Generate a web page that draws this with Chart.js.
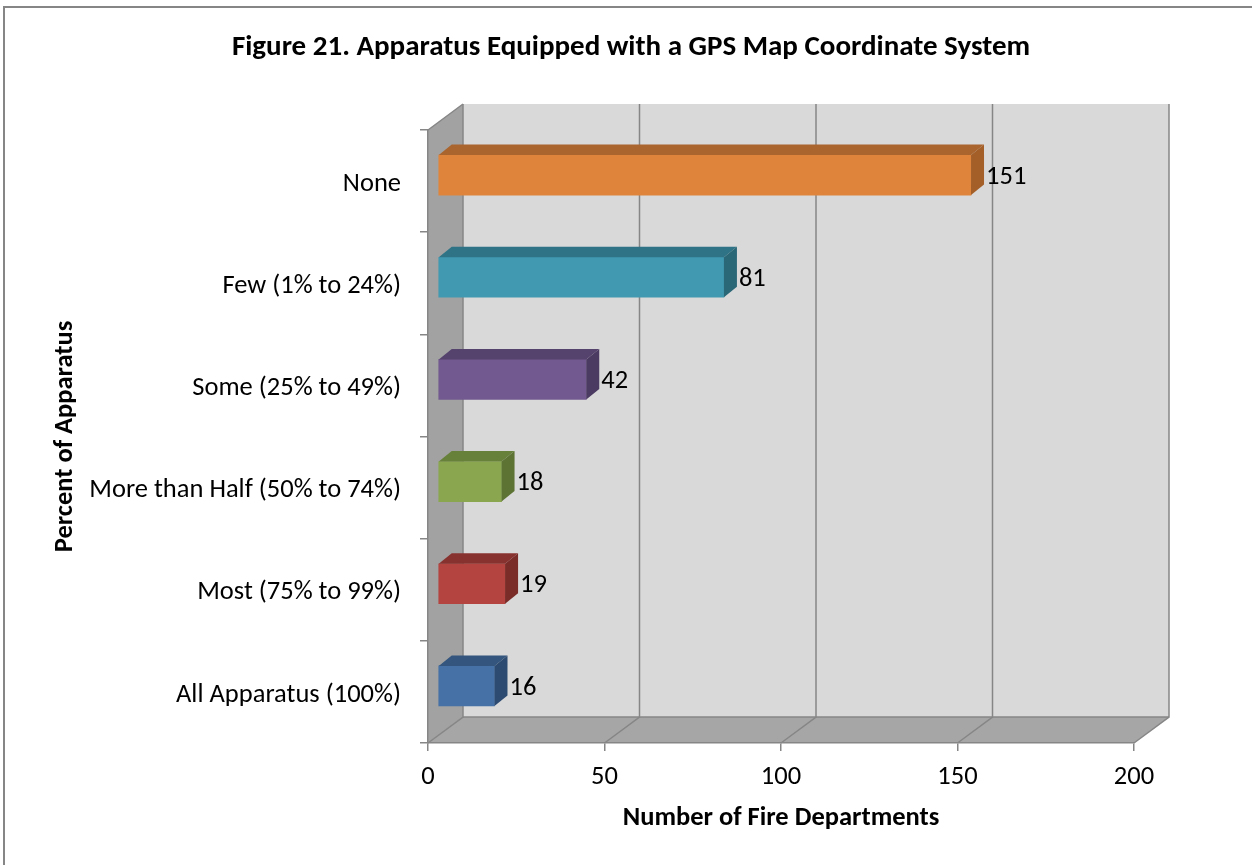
<!DOCTYPE html>
<html>
<head>
<meta charset="utf-8">
<script src="https://cdn.jsdelivr.net/npm/chart.js@4.4.0/dist/chart.umd.min.js"></script>
<style>
  html, body { margin: 0; padding: 0; background: #fff; }
</style>
</head>
<body>
<canvas id="grafico" width="1252" height="865"></canvas>
<script>
// dados do grafico
var categorias = ['None', 'Few (1% to 24%)', 'Some (25% to 49%)', 'More than Half (50% to 74%)', 'Most (75% to 99%)', 'All Apparatus (100%)'];
var departamentos = [151, 81, 42, 18, 19, 16];
var ticksX = [0, 50, 100, 150, 200];

var coresFrente = ['#de853b', '#4099b0', '#72598f', '#8aa74f', '#b3443f', '#4571a6'];
var coresTopo   = ['#aa652e', '#2f7486', '#55426d', '#68813a', '#88322f', '#33557e'];
var coresLado   = ['#a45f28', '#2a6777', '#4b3a61', '#5c7333', '#7a2c29', '#2d4b70'];

var FONTE = 'Carlito, Lato, "Open Sans", sans-serif';
var PROF_X = 35, PROF_Y = -26;      // profundidade da parede de fundo
var BAR_DX = 10, BAR_DY = -6;       // deslocamento da face frontal das barras
var BAR_PX = 13, BAR_PY = -10.5;    // profundidade das barras

// paredes, piso e grade do fundo
var paredes = {
  id: 'paredes',
  beforeDraw: function(chart) {
    var ctx = chart.ctx;
    var a = chart.chartArea;
    var sx = chart.scales.x;
    ctx.save();
    // moldura externa
    ctx.strokeStyle = '#868686';
    ctx.lineWidth = 2;
    ctx.strokeRect(4, 7, 1400, 1000);

    // parede de fundo
    ctx.fillStyle = '#d9d9d9';
    ctx.fillRect(a.left + PROF_X, a.top + PROF_Y, a.right - a.left, a.bottom - a.top);

    // parede lateral
    ctx.fillStyle = '#a2a2a2';
    ctx.beginPath();
    ctx.moveTo(a.left, a.top);
    ctx.lineTo(a.left + PROF_X, a.top + PROF_Y);
    ctx.lineTo(a.left + PROF_X, a.bottom + PROF_Y);
    ctx.lineTo(a.left, a.bottom);
    ctx.closePath();
    ctx.fill();

    // piso
    ctx.fillStyle = '#a6a6a6';
    ctx.beginPath();
    ctx.moveTo(a.left, a.bottom);
    ctx.lineTo(a.left + PROF_X, a.bottom + PROF_Y);
    ctx.lineTo(a.right + PROF_X, a.bottom + PROF_Y);
    ctx.lineTo(a.right, a.bottom);
    ctx.closePath();
    ctx.fill();

    ctx.strokeStyle = '#868686';
    ctx.lineWidth = 1.5;
    ctx.beginPath();
    ctx.moveTo(a.left, a.top);
    ctx.lineTo(a.left + PROF_X, a.top + PROF_Y);
    ctx.moveTo(a.left + PROF_X, a.bottom + PROF_Y);
    ctx.lineTo(a.right + PROF_X, a.bottom + PROF_Y);
    ctx.stroke();

    // linhas de grade: fundo + diagonais do piso
    for (var i = 0; i < ticksX.length; i++) {
      var x = sx.getPixelForValue(ticksX[i]);
      ctx.beginPath();
      ctx.moveTo(x + PROF_X, a.top + PROF_Y);
      ctx.lineTo(x + PROF_X, a.bottom + PROF_Y);
      ctx.lineTo(x, a.bottom);
      ctx.stroke();
    }
    ctx.restore();
  },
  beforeDatasetsDraw: function(chart) {
    chart.ctx.save();
    chart.ctx.translate(BAR_DX, BAR_DY);
  },
  afterDatasetsDraw: function(chart) {
    var ctx = chart.ctx;
    ctx.restore();
    var meta = chart.getDatasetMeta(0);
    ctx.save();
    for (var i = 0; i < meta.data.length; i++) {
      var bar = meta.data[i];
      var x0 = bar.base + BAR_DX, x1 = bar.x + BAR_DX;
      var y0 = bar.y - bar.height / 2 + BAR_DY, y1 = bar.y + bar.height / 2 + BAR_DY;
      // topo
      ctx.fillStyle = coresTopo[i];
      ctx.beginPath();
      ctx.moveTo(x0, y0);
      ctx.lineTo(x0 + BAR_PX, y0 + BAR_PY);
      ctx.lineTo(x1 + BAR_PX, y0 + BAR_PY);
      ctx.lineTo(x1, y0);
      ctx.closePath();
      ctx.fill();
      // lado
      ctx.fillStyle = coresLado[i];
      ctx.beginPath();
      ctx.moveTo(x1, y0);
      ctx.lineTo(x1 + BAR_PX, y0 + BAR_PY);
      ctx.lineTo(x1 + BAR_PX, y1 + BAR_PY);
      ctx.lineTo(x1, y1);
      ctx.closePath();
      ctx.fill();
      // rotulo
      ctx.fillStyle = '#000';
      ctx.font = '26.5px ' + FONTE;
      ctx.textAlign = 'left';
      ctx.textBaseline = 'middle';
      ctx.fillText(String(departamentos[i]), x1 + 15, bar.y + BAR_DY + 2);
    }
    ctx.restore();
  }
};

var ctx = document.getElementById('grafico').getContext('2d');
var grafico = new Chart(ctx, {
  type: 'bar',
  data: {
    labels: categorias,
    datasets: [{
      data: departamentos,
      backgroundColor: coresFrente,
      borderWidth: 0,
      barThickness: 40,
      clip: false
    }]
  },
  options: {
    responsive: false,
    animation: false,
    indexAxis: 'y',
    layout: { padding: { left: 10, right: 0, top: 0, bottom: 0 } },
    plugins: {
      legend: { display: false },
      tooltip: { enabled: false },
      title: {
        display: true,
        text: 'Figure 21. Apparatus Equipped with a GPS Map Coordinate System',
        color: '#000',
        font: { family: FONTE, size: 29, weight: 'bold' },
        padding: { top: 30, bottom: 65.2 }
      }
    },
    scales: {
      x: {
        min: 0,
        max: 200,
        ticks: { stepSize: 50, color: '#000', font: { family: FONTE, size: 26.5 }, padding: 10 },
        grid: { drawOnChartArea: false, tickLength: 8, color: '#868686', lineWidth: 1.5 },
        border: { color: '#868686', width: 1.5 },
        title: {
          display: true,
          text: 'Number of Fire Departments',
          color: '#000',
          font: { family: FONTE, size: 26.5, weight: 'bold' },
          padding: { top: 0, bottom: 31 }
        },
        afterFit: function(s) { s.height = 122; }
      },
      y: {
        ticks: { color: '#000', font: { family: FONTE, size: 26.5 }, padding: 19, labelOffset: 3 },
        grid: { drawOnChartArea: false, tickLength: 8, color: '#868686', lineWidth: 1.5 },
        border: { color: '#868686', width: 1.5 },
        title: {
          display: true,
          text: 'Percent of Apparatus',
          color: '#000',
          font: { family: FONTE, size: 26.5, weight: 'bold' },
          padding: { top: 39, bottom: 0 }
        },
        afterFit: function(s) { s.width = 418; }
      },
      // eixo vazio a direita, so para reservar o espaco depois do grafico
      y2: {
        position: 'right',
        ticks: { display: false },
        grid: { display: false },
        border: { display: false },
        afterFit: function(s) { s.width = 118; }
      }
    }
  },
  plugins: [paredes]
});
</script>
</body>
</html>
